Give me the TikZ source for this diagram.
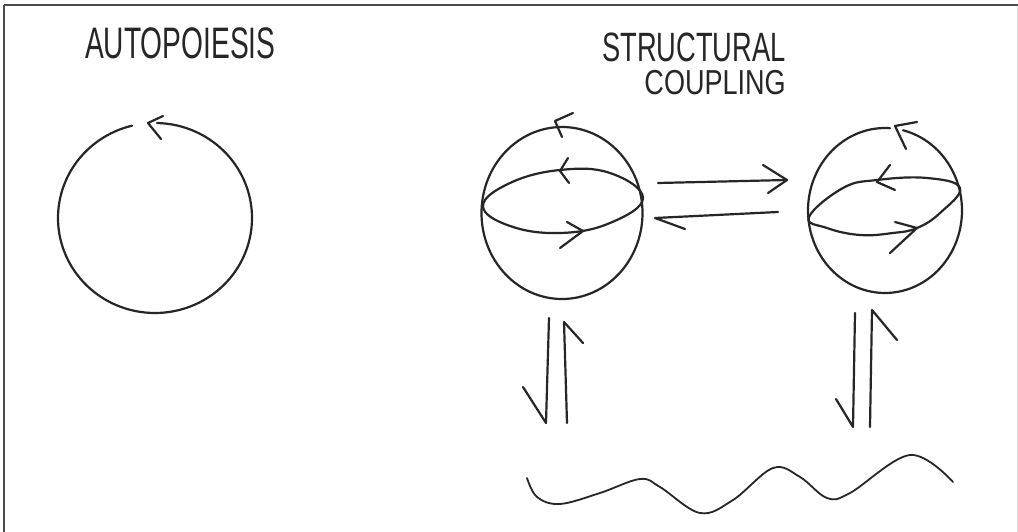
\documentclass[tikz,border=0pt]{standalone}
\usepackage{fontspec}
\setmainfont{Liberation Sans}
\begin{document}
\begin{tikzpicture}[x=1pt,y=-1pt,
  pen/.style={draw=ink,line width=2.2pt,line cap=round,line join=round},
  thinpen/.style={draw=ink,line width=1.8pt,line cap=round,line join=round},
  frameline/.style={draw=framegray,line width=2pt},
  handtext/.style={inner sep=0pt,text=ink}]
\definecolor{ink}{HTML}{262626}
\definecolor{framegray}{HTML}{4A4A4A}
\useasboundingbox[fill=white] (0,0) rectangle (1018,532);
% frame
\draw[frameline] (4,5.5) -- (1018,5.5);
\draw[frameline] (4,5.5) -- (4,532);
\draw[draw=black!15,line width=1pt] (1017,6) -- (1017,532);
% titles
\node[handtext,text depth=0pt,anchor=base west,xscale=0.67,yscale=1.05,font=\fontsize{42}{42}\selectfont] (t1) at (85,59) {AUTOPOIESIS};
\node[handtext,align=right,anchor=north east] (t2) at (786,33)
  {\scalebox{0.70}[1.05]{\fontsize{39}{39}\selectfont STRUCTURAL}\\[7pt]\scalebox{0.82}[1.05]{\fontsize{33}{33}\selectfont COUPLING}};
% autopoiesis circle
\draw[pen] plot[domain=-88.8:256.3,samples=120,smooth] ({155+97*cos(\x)},{218+95*sin(\x)});
\draw[pen] (163,116) -- (148,123) -- (161,139);
% globe 1
\coordinate (g1) at (562,213);
\draw[pen] (g1) ellipse [x radius=80.5pt, y radius=86pt];
\draw[pen] plot[smooth cycle,tension=0.7] coordinates {(483,206) (510,183) (560,170) (610,173) (643,198) (610,223) (560,233) (510,226)};
\draw[pen] (573,113) -- (555,121) -- (562,137);
\draw[pen] (568,158) -- (560,171) -- (569,183);
\draw[pen] (567,222) -- (583,231) -- (560,248);
% globe 2
\coordinate (g2) at (885,210.5);
\draw[pen] plot[domain=-76.5:273.7,samples=120,smooth] ({885+77*cos(\x)},{210.5+82.5*sin(\x)});
\draw[pen] plot[smooth cycle,tension=0.7] coordinates {(809,217) (843,188) (877,180) (927,178) (960,188) (940,213) (917,228) (893,233) (860,235) (827,228)};
\draw[pen] (917,122) -- (895,126) -- (906,149);
\draw[pen] (890,165) -- (877,182) -- (895,190);
\draw[pen] (895,222) -- (917,228) -- (890,253);
% horizontal arrows between globes
\coordinate (h1s) at (658,183);
\coordinate (h1e) at (787,180);
\coordinate (h2s) at (778,212);
\coordinate (h2e) at (655,218);
\draw[pen] (h1s) -- (h1e);
\draw[pen] (763,165) -- (h1e) -- (768,193);
\draw[pen] (h2s) -- (h2e) -- (685,229);
% vertical arrows globe 1
\coordinate (v1s) at (549,318);
\coordinate (v1e) at (546,423);
\coordinate (v2s) at (567,423);
\coordinate (v2e) at (564,322);
\draw[pen] (v1s) -- (v1e) -- (523,387);
\draw[pen] (v2s) -- (v2e) -- (583,343);
% vertical arrows globe 2
\coordinate (v3s) at (855,313);
\coordinate (v3e) at (853,427);
\coordinate (v4s) at (870,427);
\coordinate (v4e) at (872,310);
\draw[pen] (v3s) -- (v3e) -- (836,399);
\draw[pen] (v4s) -- (v4e) -- (897,340);
% environment wave
\draw[thinpen] plot[smooth,tension=0.6] coordinates {(527,478) (537,497) (560,504) (600,493) (640,479) (660,487) (700,513) (733,500) (773,468) (800,477) (827,498) (850,493) (910,455) (953,482)};
\end{tikzpicture}
\end{document}
